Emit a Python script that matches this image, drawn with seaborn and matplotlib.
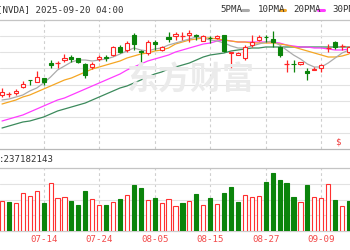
import numpy as np
import pandas as pd
import matplotlib
matplotlib.use("Agg")
import matplotlib.pyplot as plt
from matplotlib.lines import Line2D
import seaborn as sns

# ---------------- data ----------------
tick_pos = [6, 14, 22, 30, 38, 46]
tick_labels = ["07-14", "07-24", "08-05", "08-15", "08-27", "09-09"]

open_ = [162.0, 162.4, 162.8, 165.2, 168.0, 167.2, 168.8, 174.8, 174.8, 176.0,
         177.2, 176.8, 174.4, 173.2, 176.4, 177.2, 178.0, 181.2, 180.0, 186.0,
         179.6, 178.8, 183.2, 180.0, 185.2, 185.6, 185.6, 186.0, 186.0, 183.6,
         184.8, 184.8, 186.0, 178.8, 178.0, 176.8, 182.0, 184.0, 185.2, 184.4,
         181.2, 174.4, 174.4, 174.4, 171.6, 172.0, 172.8, 180.8, 183.2, 181.6,
         179.2]
close = [163.2, 162.4, 163.6, 166.4, 167.8, 169.2, 167.2, 174.2, 174.8, 176.8,
         176.4, 175.2, 170.0, 174.4, 177.2, 177.0, 181.2, 179.2, 182.8, 182.6,
         179.2, 183.2, 182.6, 181.2, 184.4, 186.4, 185.6, 186.8, 185.6, 185.6,
         184.7, 185.6, 179.6, 179.2, 179.0, 181.2, 183.2, 185.2, 185.1, 183.2,
         178.0, 174.4, 174.3, 175.2, 170.8, 172.4, 174.0, 180.8, 181.2, 181.6,
         181.2]
high = [164.8, 163.2, 164.4, 167.6, 168.0, 171.6, 168.8, 176.0, 175.6, 178.4,
        178.0, 176.8, 174.8, 175.2, 178.0, 178.0, 181.6, 182.0, 183.6, 186.8,
        180.0, 184.0, 184.0, 181.6, 187.2, 187.2, 187.2, 188.0, 186.4, 186.0,
        185.6, 186.0, 186.0, 179.2, 179.2, 182.0, 186.0, 186.0, 186.0, 187.6,
        181.6, 176.0, 176.0, 175.2, 172.8, 173.2, 174.4, 182.4, 183.6, 182.4,
        181.6]
low = [161.2, 161.2, 162.0, 164.8, 166.0, 167.2, 166.0, 172.8, 172.8, 175.2,
       175.2, 174.8, 168.8, 172.4, 175.6, 175.6, 177.6, 178.8, 179.2, 180.0,
       174.8, 178.0, 180.0, 179.6, 183.2, 184.0, 184.0, 183.2, 184.0, 183.6,
       182.8, 184.4, 179.2, 172.8, 178.0, 176.0, 181.2, 183.6, 183.2, 181.2,
       177.2, 171.2, 171.2, 174.0, 168.0, 172.0, 171.2, 179.2, 180.4, 180.0,
       178.8]

ma5 = [160.0, 160.4, 161.2, 162.0, 163.6, 164.8, 166.8, 169.2, 172.0, 173.6,
       175.2, 176.0, 176.0, 175.6, 176.0, 176.4, 177.2, 178.4, 179.6, 180.8,
       180.0, 179.6, 180.4, 180.8, 182.0, 182.8, 183.6, 184.4, 185.2, 184.8,
       184.0, 183.6, 182.8, 181.6, 180.8, 180.8, 181.6, 182.4, 183.2, 183.6,
       182.0, 180.0, 178.0, 176.4, 174.4, 173.2, 173.2, 174.8, 176.8, 178.8,
       180.0]
ma10 = [158.4, 159.2, 160.0, 161.2, 162.0, 163.2, 164.4, 165.6, 166.8, 168.0,
        168.8, 170.0, 171.2, 172.4, 173.2, 174.0, 174.8, 175.6, 176.8, 177.6,
        178.4, 178.8, 179.6, 180.0, 180.8, 182.4, 183.2, 184.0, 184.4, 184.8,
        184.8, 184.4, 184.0, 183.6, 183.2, 183.2, 182.8, 182.8, 182.8, 182.8,
        182.4, 182.0, 181.2, 180.4, 179.6, 178.8, 178.0, 177.2, 177.2, 177.6,
        178.4]
ma20 = [151.6, 152.4, 153.2, 154.0, 155.2, 156.4, 157.6, 158.8, 160.0, 160.8,
        162.0, 163.2, 164.4, 165.6, 166.8, 168.0, 169.2, 170.4, 172.0, 173.2,
        174.4, 175.6, 176.4, 177.2, 178.0, 179.2, 180.0, 180.8, 181.6, 182.4,
        182.8, 183.6, 184.0, 183.6, 183.2, 183.2, 183.2, 183.2, 183.2, 183.2,
        182.8, 182.0, 181.6, 181.2, 181.2, 180.8, 180.8, 180.4, 180.0, 180.0,
        180.4]
ma30 = [148.8, 149.6, 150.4, 151.2, 151.6, 152.4, 153.2, 154.4, 155.6, 156.4,
        157.2, 158.0, 158.8, 160.0, 161.2, 162.4, 163.6, 164.8, 165.6, 166.8,
        168.0, 169.2, 170.4, 171.2, 172.4, 173.2, 174.0, 174.8, 176.0, 177.2,
        178.0, 178.4, 178.8, 179.6, 180.0, 180.4, 180.8, 180.8, 181.2, 181.2,
        181.2, 181.2, 181.2, 181.2, 181.2, 181.2, 181.2, 181.2, 181.2, 181.2,
        181.2]

volume = [150, 145, 140, 190, 175, 200, 140, 240, 165, 170,
          150, 130, 200, 160, 130, 130, 145, 160, 180, 230,
          215, 155, 165, 140, 160, 125, 140, 150, 185, 130,
          165, 135, 190, 220, 145, 180, 170, 175, 245, 290,
          255, 240, 170, 145, 230, 170, 165, 235, 155, 125,
          150]
vol_up = [1, 0, 1, 1, 1, 1, 0, 1, 1, 1, 0, 0, 0, 1, 1, 0, 1, 0, 1, 0,
          0, 1, 0, 1, 1, 1, 0, 1, 0, 1, 0, 1, 0, 0, 0, 1, 1, 1, 0, 0,
          0, 0, 0, 1, 0, 1, 1, 1, 0, 1, 0]

title_text = "[NVDA] 2025-09-20 04:00"
vol_text = ":237182143"
ma_names = ["5PMA", "10PMA", "20PMA", "30PMA"]

# ---------------- style ----------------
sns.set_style("white")
plt.rcParams['font.family'] = ['DejaVu Sans Mono', 'Noto Sans CJK SC']

RED = '#ff2626'
GREEN = '#0b840b'
VRED = '#ff3030'
C5, C10, C20, C30 = '#ababab', '#f5a623', '#ff3cff', '#3c8a5c'
GRID = '#e2e2e2'
VGRID = '#cfcfcf'
BORDER = '#c4c4c4'

W, H = 350, 250
fig = plt.figure(figsize=(W / 100, H / 100), dpi=100)
fig.patch.set_facecolor('white')


def rect(x0, y0, x1, y1):
    return [x0 / W, 1 - y1 / H, (x1 - x0) / W, (y1 - y0) / H]


def fx(x):
    return x / W


def fy(y):
    return 1 - y / H


ax = fig.add_axes(rect(0, 20, 350, 149))
axv = fig.add_axes(rect(0, 168, 350, 231))

idx = np.arange(len(close))
x_lo, x_hi = -0.29, 50.14

# ---------------- price panel ----------------
df = pd.DataFrame(dict(i=idx, o=open_, c=close, h=high, l=low))
up = (df.c >= df.o).values
top = np.maximum(df.o, df.c).values
bot = np.minimum(df.o, df.c).values
cols = np.where(up, RED, GREEN)

# watermark
ax.text(189, 0, "", transform=ax.transData)
fig.text(fx(190), fy(81), "东方财富", fontsize=23, fontweight='bold',
         color='#ebebeb', ha='center', va='center',
         family=['Noto Sans CJK SC'], zorder=0)

for vals, c in [(ma30, C30), (ma20, C20), (ma10, C10), (ma5, C5)]:
    sns.lineplot(x=idx, y=vals, ax=ax, color=c, lw=0.9, zorder=2,
                 legend=False)

ax.vlines(idx, top, df.h.values, colors=cols, lw=0.9, zorder=3)
ax.vlines(idx, df.l.values, bot, colors=cols, lw=0.9, zorder=3)
hgt = top - bot
body = hgt > 0.05
face = np.where(up, 'white', GREEN)
ax.bar(idx[body], hgt[body], bottom=bot[body], width=0.6,
       color=face[body], edgecolor=cols[body], linewidth=0.8, zorder=4)
doji = ~body
ax.hlines(df.c.values[doji], idx[doji] - 0.36, idx[doji] + 0.36,
          colors=cols[doji], lw=0.9, zorder=4)

ymin, ymax = 140.4, 192.0
ax.set_ylim(ymin, ymax)
ax.set_xlim(x_lo, x_hi)
ax.set_yticks(np.linspace(ymin, ymax, 9)[1:-1])
ax.set_xticks(tick_pos)
ax.yaxis.grid(True, color=GRID, lw=0.8, ls='-')
ax.xaxis.grid(True, color=VGRID, lw=0.8, ls=(0, (2.5, 2.5)))
ax.set_axisbelow(True)
ax.tick_params(length=0, labelbottom=False, labelleft=False)
ax.set_xlabel("")
ax.set_ylabel("")
for s in ['left', 'right']:
    ax.spines[s].set_visible(False)
ax.spines['top'].set_color(BORDER)
ax.spines['bottom'].set_color('#b8b8b8')
ax.spines['top'].set_linewidth(0.9)
ax.spines['bottom'].set_linewidth(0.9)

# ---------------- volume panel ----------------
vup = np.array(vol_up).astype(bool)
vcol = np.where(vup, VRED, GREEN)
vface = np.where(vup, 'white', GREEN)
axv.bar(idx, volume, width=0.6, color=vface, edgecolor=vcol,
        linewidth=0.8, zorder=3)
axv.set_xlim(x_lo, x_hi)
axv.set_ylim(0, 315)
axv.set_yticks([78.75, 157.5, 236.25])
axv.set_xticks(tick_pos)
axv.set_xticklabels(tick_labels)
axv.yaxis.grid(True, color=GRID, lw=0.8, ls='-')
axv.xaxis.grid(True, color=VGRID, lw=0.8, ls=(0, (2.5, 2.5)))
axv.set_axisbelow(True)
axv.tick_params(axis='x', length=0, pad=3.2, labelsize=6.6,
                labelcolor='#f24a4a')
axv.tick_params(axis='y', length=0, labelleft=False)
for s in ['left', 'right']:
    axv.spines[s].set_visible(False)
axv.spines['top'].set_color(BORDER)
axv.spines['bottom'].set_color('#cccccc')
axv.spines['top'].set_linewidth(0.9)
axv.spines['bottom'].set_linewidth(0.9)

# ---------------- header texts ----------------
fig.text(fx(-3), fy(10), title_text, fontsize=6.6, color='#333333',
         ha='left', va='center')
fig.text(fx(-1), fy(159), vol_text, fontsize=6.6, color='#333333',
         ha='left', va='center')
fig.text(fx(338), fy(142), "$", fontsize=6.5, color='#f04040',
         ha='center', va='center')

leg_x = [220, 258, 293, 332]
leg_cols = [C5, C10, C20, C30]
dash_x = [(242, 248), (280, 285), (318, 324)]
for name, xx in zip(ma_names, leg_x):
    fig.text(fx(xx), fy(10), name, fontsize=6.6, color='#333333',
             ha='left', va='center')
for (a, b), c in zip(dash_x, leg_cols):
    fig.add_artist(Line2D([fx(a), fx(b)], [fy(10), fy(10)], color=c,
                          lw=2.2, transform=fig.transFigure))

fig.savefig("out.png", dpi=100, facecolor='white')
